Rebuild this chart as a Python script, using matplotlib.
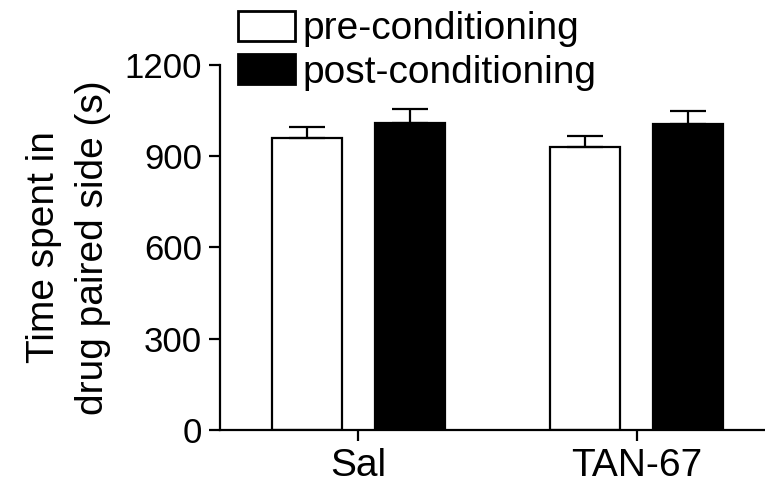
import matplotlib.pyplot as plt
import numpy as np

# dados (tempo no lado pareado, em segundos)
grupos = ['Sal', 'TAN-67']
pre_cond = [960, 930]
pre_erro = [36, 37]
pos_cond = [1009, 1006]
pos_erro = [46, 43]
yticks = [0, 300, 600, 900, 1200]

plt.rcParams['font.family'] = ['Liberation Sans', 'DejaVu Sans']

fig = plt.figure(figsize=(7.65, 4.87), dpi=100)
ax = fig.add_axes([220 / 765, 57 / 487, 545 / 765, 365 / 487])

x = np.arange(len(grupos))
largura = 0.252
desloc = 0.186

ax.bar(x - desloc, pre_cond, largura, color='white', edgecolor='black',
       linewidth=1.6, label='pre-conditioning',
       yerr=[np.zeros(len(grupos)), pre_erro],
       error_kw=dict(ecolor='black', elinewidth=1.6, capsize=13, capthick=1.6))
ax.bar(x + desloc, pos_cond, largura, color='black', edgecolor='black',
       linewidth=1.6, label='post-conditioning',
       yerr=[np.zeros(len(grupos)), pos_erro],
       error_kw=dict(ecolor='black', elinewidth=1.6, capsize=13, capthick=1.6))

ax.set_xlim(-0.498, 1.462)
ax.set_ylim(0, 1200)
ax.set_yticks(yticks)
ax.set_xticks(x)
ax.set_xticklabels(grupos, fontsize=28)
ax.tick_params(axis='y', labelsize=25, length=8, width=1.6, pad=5)
ax.tick_params(axis='x', length=8, width=1.6, pad=5)

for lado in ['top', 'right']:
    ax.spines[lado].set_visible(False)
for lado in ['left', 'bottom']:
    ax.spines[lado].set_linewidth(1.6)

ax.set_ylabel('Time spent in\ndrug paired side (s)', fontsize=28,
              linespacing=1.45, labelpad=10)

leg = fig.legend(loc='upper left', bbox_to_anchor=(238 / 765, 1 - 11 / 487),
                 frameon=False, fontsize=28, handlelength=1.47,
                 handleheight=0.8, handletextpad=0.2, labelspacing=0.18,
                 borderpad=0, borderaxespad=0)
for p in leg.get_patches():
    p.set_linewidth(2)

fig.savefig('out.png', dpi=100)
plt.close(fig)
